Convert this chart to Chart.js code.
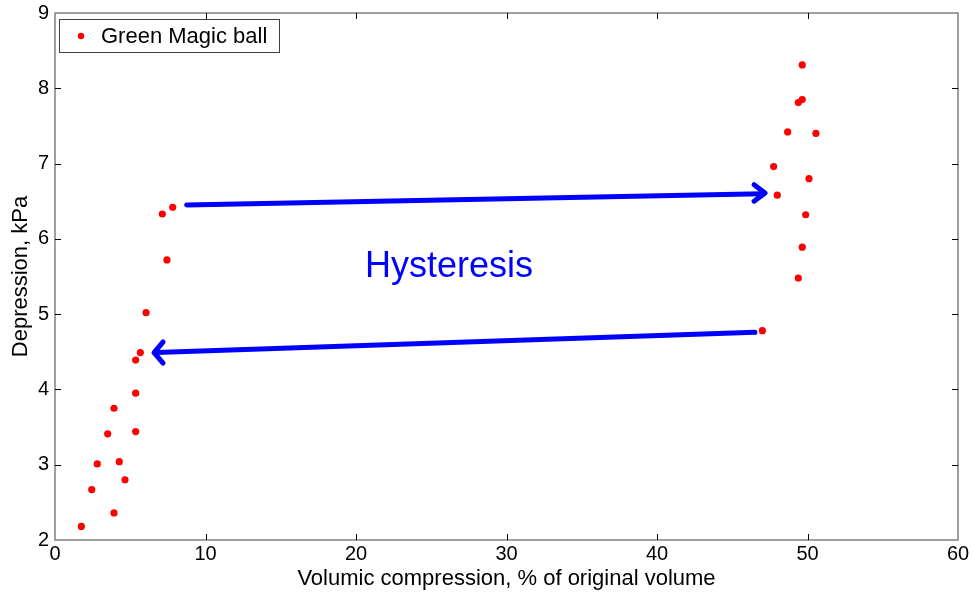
<!DOCTYPE html>
<html>
<head>
<meta charset="utf-8">
<script src="https://cdn.jsdelivr.net/npm/chart.js@4/dist/chart.umd.min.js"></script>
<style>
html,body{margin:0;padding:0;background:#fff;}
#wrap{width:974px;height:595px;position:relative;}
</style>
</head>
<body>
<div id="wrap"><canvas id="c" width="974" height="595"></canvas></div>
<script>
// Measured data: volumic compression (%) vs depression (kPa)
const compression = [1.75, 2.44, 2.81, 3.50, 3.92, 3.92, 4.27, 4.65, 5.36, 5.36, 5.36, 5.67, 6.05, 7.44, 7.13, 7.82,
                     49.65, 49.65, 49.39, 48.68, 50.56, 47.75, 50.10, 47.99, 49.88, 49.65, 49.39, 47.00];
const depression  = [2.18, 2.67, 3.01, 3.41, 3.75, 2.36, 3.04, 2.80, 3.44, 3.95, 4.39, 4.49, 5.02, 5.72, 6.33, 6.42,
                     8.31, 7.85, 7.81, 7.42, 7.40, 6.96, 6.80, 6.58, 6.32, 5.89, 5.48, 4.78];
const seriesLabel = "Green Magic ball";

// Annotation arrows (data units)
const upperShaftX = [8.75, 47.0];
const upperShaftY = [6.45, 6.60];
const upperHeadX  = [46.45, 47.18, 46.45];
const upperHeadY  = [6.72, 6.61, 6.50];
const lowerShaftX = [46.51, 6.75];
const lowerShaftY = [4.76, 4.49];
const lowerHeadX  = [7.18, 6.58, 7.18];
const lowerHeadY  = [4.63, 4.49, 4.35];
const annotationText = "Hysteresis";
const annotationX = 20.6, annotationY = 5.49;

const xTicks = [0, 10, 20, 30, 40, 50, 60];
const yTicks = [2, 3, 4, 5, 6, 7, 8, 9];

const zip = (xs, ys) => xs.map((v, i) => ({x: v, y: ys[i]}));
const BLUE = '#0000ff';
const arrowStyle = {type: 'line', showLine: true, pointRadius: 0, borderColor: BLUE, backgroundColor: BLUE,
  borderWidth: 5, borderCapStyle: 'round', borderJoinStyle: 'round', fill: false, tension: 0};

const FONT = "'Liberation Sans', Arial, sans-serif";

const decor = {
  id: 'decor',
  afterDatasetsDraw(chart) {
    const {ctx, chartArea: a, scales: {x, y}} = chart;
    ctx.save();
    // annotation text
    ctx.fillStyle = BLUE;
    ctx.font = "36px " + FONT;
    ctx.textAlign = 'left';
    ctx.textBaseline = 'alphabetic';
    ctx.fillText(annotationText, x.getPixelForValue(annotationX), y.getPixelForValue(annotationY));
    // box
    ctx.strokeStyle = '#808080';
    ctx.lineWidth = 1.5;
    ctx.strokeRect(a.left, a.top, a.right - a.left, a.bottom - a.top);
    // inward ticks on all four sides
    ctx.strokeStyle = '#000';
    ctx.lineWidth = 1;
    const L = 6;
    xTicks.forEach(v => {
      if (v === xTicks[0] || v === xTicks[xTicks.length - 1]) return;
      const p = Math.round(x.getPixelForValue(v)) + 0.5;
      ctx.beginPath();
      ctx.moveTo(p, a.bottom); ctx.lineTo(p, a.bottom - L);
      ctx.moveTo(p, a.top); ctx.lineTo(p, a.top + L);
      ctx.stroke();
    });
    yTicks.forEach(v => {
      if (v === yTicks[0] || v === yTicks[yTicks.length - 1]) return;
      const p = Math.round(y.getPixelForValue(v)) + 0.5;
      ctx.beginPath();
      ctx.moveTo(a.left, p); ctx.lineTo(a.left + L, p);
      ctx.moveTo(a.right, p); ctx.lineTo(a.right - L, p);
      ctx.stroke();
    });
    // legend
    const lx = a.left + 4, ly = a.top + 6, lw = 220, lh = 33;
    ctx.fillStyle = '#fff';
    ctx.fillRect(lx, ly, lw, lh);
    ctx.strokeStyle = '#404040';
    ctx.lineWidth = 1;
    ctx.strokeRect(lx + 0.5, ly + 0.5, lw, lh);
    ctx.fillStyle = '#ff0000';
    ctx.beginPath();
    ctx.arc(lx + 22, ly + lh / 2 + 0.5, 3.2, 0, Math.PI * 2);
    ctx.fill();
    ctx.fillStyle = '#000';
    ctx.font = "22px " + FONT;
    ctx.textBaseline = 'middle';
    ctx.fillText(chart.data.datasets[0].label, lx + 42, ly + lh / 2 + 1);
    ctx.restore();
  }
};

new Chart(document.getElementById('c'), {
  type: 'scatter',
  data: {
    datasets: [
      {label: seriesLabel, data: zip(compression, depression), backgroundColor: '#ff0000', borderColor: '#ff0000',
       pointRadius: 3.6, pointBorderWidth: 0, showLine: false},
      Object.assign({label: 'a1', data: zip(upperShaftX, upperShaftY)}, arrowStyle),
      Object.assign({label: 'a2', data: zip(upperHeadX, upperHeadY)}, arrowStyle),
      Object.assign({label: 'a3', data: zip(lowerShaftX, lowerShaftY)}, arrowStyle),
      Object.assign({label: 'a4', data: zip(lowerHeadX, lowerHeadY)}, arrowStyle)
    ]
  },
  options: {
    responsive: false,
    animation: false,
    devicePixelRatio: 1,
    layout: {padding: {top: 13, right: 16, left: 0, bottom: 0}},
    plugins: {legend: {display: false}, tooltip: {enabled: false}},
    scales: {
      x: {
        type: 'linear', min: 0, max: 60,
        afterBuildTicks: s => { s.ticks = xTicks.map(v => ({value: v})); },
        afterFit: s => { s.height = 55; s.paddingLeft = 0; s.paddingRight = 0; },
        grid: {display: false, drawTicks: false},
        border: {display: false},
        ticks: {color: '#000', font: {family: FONT, size: 20}, padding: 2, maxRotation: 0},
        title: {display: true, text: 'Volumic compression, % of original volume', color: '#000',
                font: {family: FONT, size: 22}, padding: {top: 0, bottom: 3}}
      },
      y: {
        type: 'linear', min: 2, max: 9,
        afterBuildTicks: s => { s.ticks = yTicks.map(v => ({value: v})); },
        afterFit: s => { s.width = 55; s.paddingTop = 0; s.paddingBottom = 0; },
        grid: {display: false, drawTicks: false},
        border: {display: false},
        ticks: {color: '#000', font: {family: FONT, size: 20}, padding: 6},
        title: {display: true, text: 'Depression, kPa', color: '#000',
                font: {family: FONT, size: 22}, padding: {top: 8, bottom: 0}}
      }
    }
  },
  plugins: [decor]
});
</script>
</body>
</html>
